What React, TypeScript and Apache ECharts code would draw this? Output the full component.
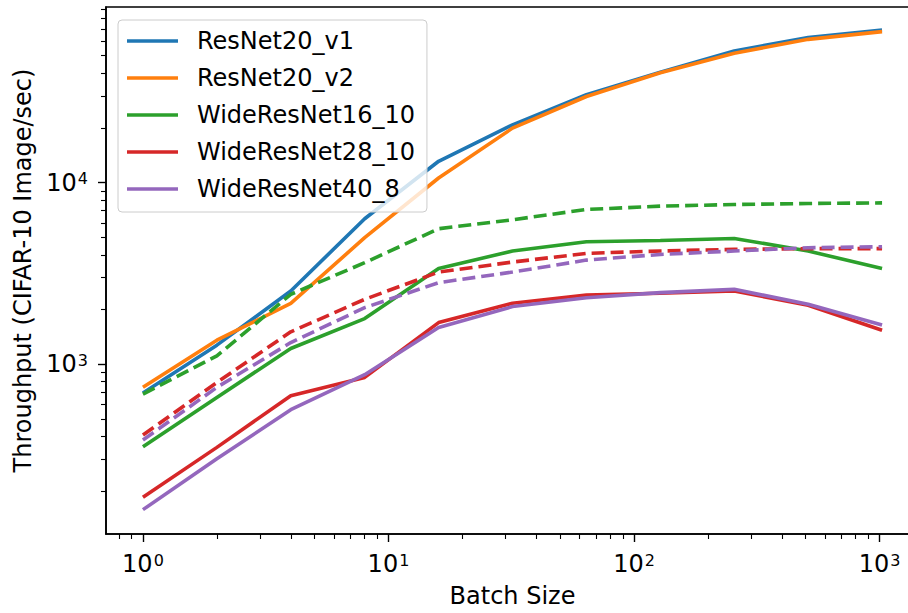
import React, { useEffect, useRef } from "react";
import * as echarts from "echarts";

const batchSizes = [1, 2, 4, 8, 16, 32, 64, 128, 256, 512, 1024];

const resnet20v1 = [693, 1272, 2530, 6320, 13100, 20800, 30500, 40500, 53100, 62900, 69300];
const resnet20v2 = [745, 1355, 2163, 4970, 10600, 19950, 29800, 40300, 51600, 61500, 67800];
const wrn16_10 = [351, 656, 1220, 1783, 3360, 4200, 4720, 4800, 4920, 4200, 3360];
const wrn28_10 = [185, 348, 670, 845, 1694, 2163, 2404, 2455, 2530, 2110, 1537];
const wrn40_8 = [158, 301, 561, 875, 1592, 2075, 2323, 2478, 2582, 2137, 1643];
const wrn16_10Dashed = [684, 1110, 2425, 3620, 5570, 6240, 7110, 7420, 7570, 7670, 7730];
const wrn28_10Dashed = [407, 793, 1506, 2275, 3214, 3650, 4076, 4200, 4287, 4325, 4325];
const wrn40_8Dashed = [382, 745, 1315, 2047, 2812, 3214, 3742, 4020, 4200, 4378, 4434];

const seriesNames = ["ResNet20_v1", "ResNet20_v2", "WideResNet16_10", "WideResNet28_10", "WideResNet40_8"];
const colors = ["#1f77b4", "#ff7f0e", "#2ca02c", "#d62728", "#9467bd"];

const xMajorTicks = [1, 10, 100, 1000];
const xMinorTicks = [0.8, 0.9, 2, 3, 4, 5, 6, 7, 8, 9, 20, 30, 40, 50, 60, 70, 80, 90, 200, 300, 400, 500, 600, 700, 800, 900];
const yMajorTicks = [1000, 10000];
const yMinorTicks = [200, 300, 400, 500, 600, 700, 800, 900, 2000, 3000, 4000, 5000, 6000, 7000, 8000, 9000, 20000, 30000, 40000, 50000, 60000, 70000, 80000, 90000];

const xMin = 0.7071;
const xMax = 1448;
const yMin = 116;
const yMax = 92700;

const FONT = "DejaVu Sans";
const LW = 3.6;

function pairs(vals: number[]) {
  return batchSizes.map((b, i) => [b, vals[i]]);
}

function powLabel(v: number) {
  const e = Math.round(Math.log10(v));
  return `{b|10}{s|${e}}`;
}

const rich = {
  b: { fontSize: 24, fontFamily: FONT, color: "#000", lineHeight: 28 },
  s: { fontSize: 16, fontFamily: FONT, color: "#000", lineHeight: 18, verticalAlign: "top", padding: [2, 0, 0, 1] },
};

export default function App() {
  const ref = useRef<HTMLDivElement>(null);
  useEffect(() => {
    if (!ref.current) return;
    const chart = echarts.init(ref.current, undefined, { renderer: "svg" });
    const solid = [resnet20v1, resnet20v2, wrn16_10, wrn28_10, wrn40_8];
    const dashed = [
      { vals: wrn16_10Dashed, c: 2 },
      { vals: wrn28_10Dashed, c: 3 },
      { vals: wrn40_8Dashed, c: 4 },
    ];
    const series: any[] = [];
    solid.forEach((vals, i) => {
      series.push({
        name: seriesNames[i],
        type: "line",
        data: pairs(vals),
        symbol: "none",
        lineStyle: { color: colors[i], width: LW },
        itemStyle: { color: colors[i] },
        xAxisIndex: 0,
        yAxisIndex: 0,
        z: 2 + i,
      });
    });
    dashed.forEach((d, k) => {
      series.push({
        name: seriesNames[d.c],
        type: "line",
        data: pairs(d.vals),
        symbol: "none",
        lineStyle: { color: colors[d.c], width: LW, type: [13, 6] },
        itemStyle: { color: colors[d.c] },
        xAxisIndex: 0,
        yAxisIndex: 0,
        z: 10 + k,
      });
    });

    const option: any = {
      animation: false,
      backgroundColor: "#fff",
      grid: {
        left: 106,
        top: 7,
        width: 813,
        height: 528,
        show: true,
        borderColor: "#000",
        borderWidth: 1.6,
        backgroundColor: "transparent",
      },
      legend: {
        orient: "vertical",
        left: 118,
        top: 20,
        data: seriesNames,
        icon: "rect",
        itemWidth: 51,
        itemHeight: 3.4,
        itemGap: 9,
        padding: [7, 12, 9, 9],
        backgroundColor: "rgba(255,255,255,0.8)",
        borderColor: "#cccccc",
        borderWidth: 1,
        borderRadius: 4,
        selectedMode: false,
        textStyle: { fontSize: 24, fontFamily: FONT, color: "#000", lineHeight: 28, padding: [0, 0, 0, 14] },
        z: 20,
      },
      xAxis: [
        {
          type: "log",
          logBase: 10,
          min: xMin,
          max: xMax,
          position: "bottom",
          name: "Batch Size",
          nameLocation: "middle",
          nameGap: 50,
          nameTextStyle: { fontSize: 24, fontFamily: FONT, color: "#000" },
          axisLine: { show: true, onZero: false, lineStyle: { color: "#000", width: 1.6 } },
          axisTick: { show: true, length: 8, lineStyle: { color: "#000", width: 1.4 }, customValues: xMajorTicks },
          axisLabel: { show: true, customValues: xMajorTicks, formatter: powLabel, rich, margin: 16 },
          splitLine: { show: false },
        },
        {
          type: "log",
          logBase: 10,
          min: xMin,
          max: xMax,
          position: "bottom",
          axisLine: { show: false },
          axisTick: { show: true, length: 5, lineStyle: { color: "#000", width: 1.1 }, customValues: xMinorTicks },
          axisLabel: { show: false },
          splitLine: { show: false },
        },
      ],
      yAxis: [
        {
          type: "log",
          logBase: 10,
          min: yMin,
          max: yMax,
          position: "left",
          name: "Throughput (CIFAR-10 Image/sec)",
          nameLocation: "middle",
          nameGap: 70,
          nameTextStyle: { fontSize: 24, fontFamily: FONT, color: "#000" },
          axisLine: { show: true, onZero: false, lineStyle: { color: "#000", width: 1.6 } },
          axisTick: { show: true, length: 8, lineStyle: { color: "#000", width: 1.4 }, customValues: yMajorTicks },
          axisLabel: { show: true, customValues: yMajorTicks, formatter: powLabel, rich, margin: 18 },
          splitLine: { show: false },
        },
        {
          type: "log",
          logBase: 10,
          min: yMin,
          max: yMax,
          position: "left",
          axisLine: { show: false },
          axisTick: { show: true, length: 5, lineStyle: { color: "#000", width: 1.1 }, customValues: yMinorTicks },
          axisLabel: { show: false },
          splitLine: { show: false },
        },
      ],
      series,
    };
    chart.setOption(option);
    return () => chart.dispose();
  }, []);

  return (
    <div style={{ position: "fixed", left: 0, top: 0, width: 908, height: 613, overflow: "hidden", background: "#fff" }}>
      <div ref={ref} style={{ width: 930, height: 613 }} />
    </div>
  );
}
